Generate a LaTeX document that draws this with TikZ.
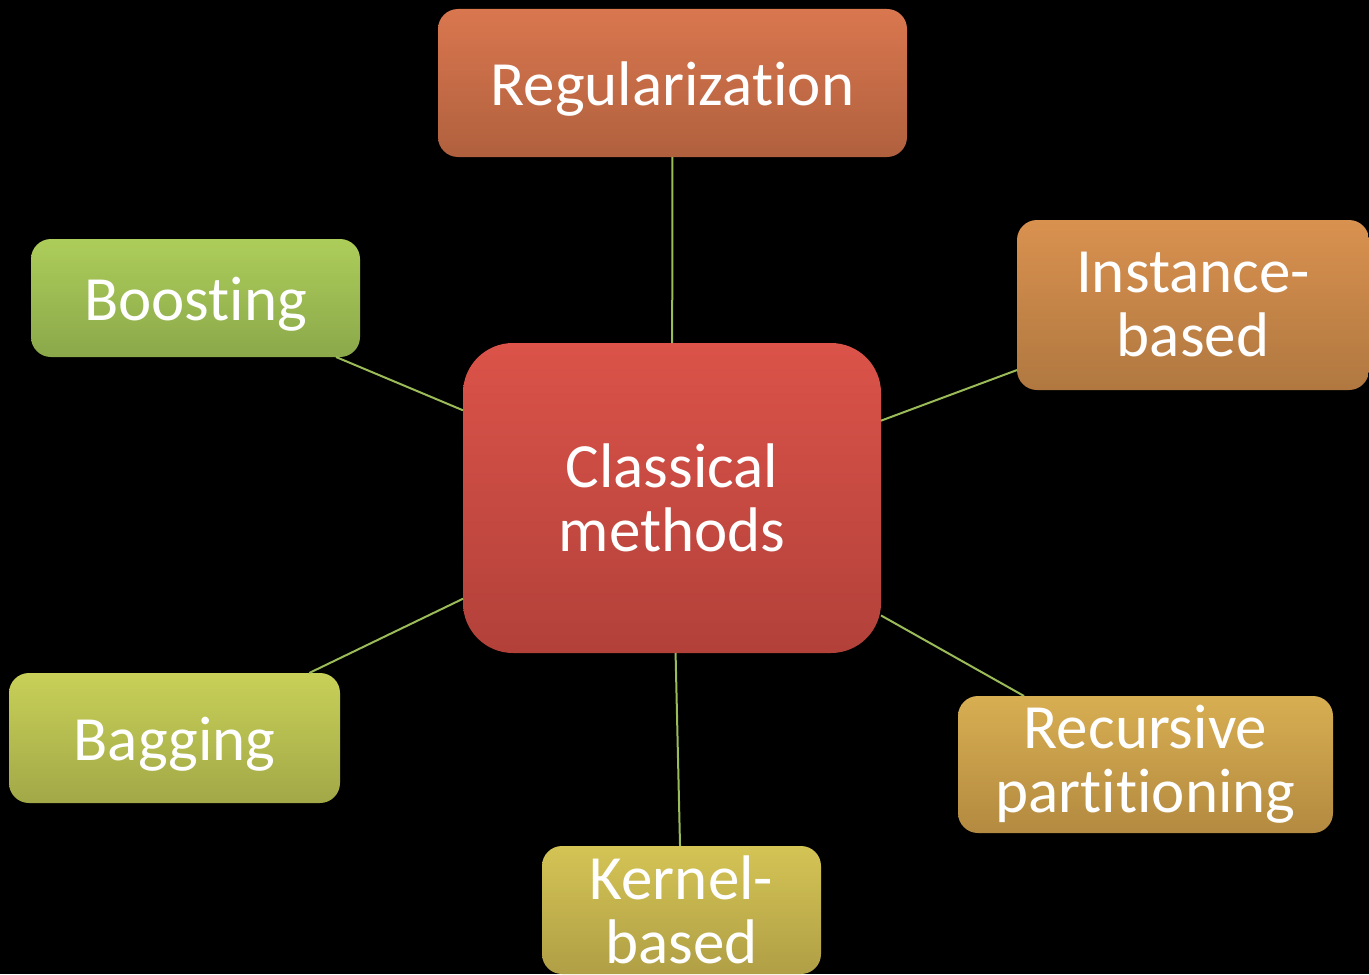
\documentclass[tikz,border=0pt]{standalone}
\usepackage{fontspec}
\setmainfont{Carlito}[Ligatures=NoCommon]
\definecolor{regT}{HTML}{D9774F}\definecolor{regB}{HTML}{B0603E}
\definecolor{cenT}{HTML}{DB5349}\definecolor{cenB}{HTML}{B2413A}
\definecolor{booT}{HTML}{ADCD5A}\definecolor{booB}{HTML}{8BA84A}
\definecolor{insT}{HTML}{D9914F}\definecolor{insB}{HTML}{B07840}
\definecolor{bagT}{HTML}{C8D058}\definecolor{bagB}{HTML}{A2A847}
\definecolor{kerT}{HTML}{D4C455}\definecolor{kerB}{HTML}{B09F45}
\definecolor{recT}{HTML}{D8AE52}\definecolor{recB}{HTML}{B38A40}
\definecolor{linkc}{HTML}{9BBB59}
\tikzset{
  box/.style={rectangle, rounded corners=10pt, inner sep=0pt, outer sep=0pt,
    text=white, align=center, font=\fontsize{31.5}{32}\selectfont},
  oneline/.style={text height=26pt, text depth=4pt},
  link/.style={draw=linkc, line width=1pt},
}
\begin{document}
\begin{tikzpicture}[x=0.5pt,y=-0.5pt]
\fill[black] (0,0) rectangle (1369,974);
\useasboundingbox (0,0) rectangle (1369,974);
\clip (0,0) rectangle (1369,974);
\node[box, rounded corners=25pt, minimum width=209pt, minimum height=155pt, top color=cenT, bottom color=cenB] (c) at (672,498) {Classical\\methods};
\node[box, oneline, minimum width=234.5pt, minimum height=74pt, top color=regT, bottom color=regB] (reg) at (672.5,83) {Regularization};
\node[box, oneline, minimum width=164.5pt, minimum height=59pt, top color=booT, bottom color=booB] (boo) at (195.5,298) {Boosting};
\node[box, minimum width=176pt, minimum height=85pt, top color=insT, bottom color=insB] (ins) at (1193,305) {Instance-\\based};
\node[box, oneline, minimum width=165.5pt, minimum height=65pt, top color=bagT, bottom color=bagB] (bag) at (174.5,738) {Bagging};
\node[box, minimum width=139.5pt, minimum height=64pt, top color=kerT, bottom color=kerB] (ker) at (681.5,910) {Kernel-\\based};
\node[box, minimum width=187.5pt, minimum height=68.5pt, top color=recT, bottom color=recB] (rec) at (1145.5,764.5) {Recursive\\partitioning};
\draw[link] (c) -- (reg);
\draw[link] (c) -- (boo);
\draw[link] (c) -- (ins);
\draw[link] (c) -- (bag);
\draw[link] (c) -- (ker);
\draw[link] (c) -- (rec);
\end{tikzpicture}
\end{document}
